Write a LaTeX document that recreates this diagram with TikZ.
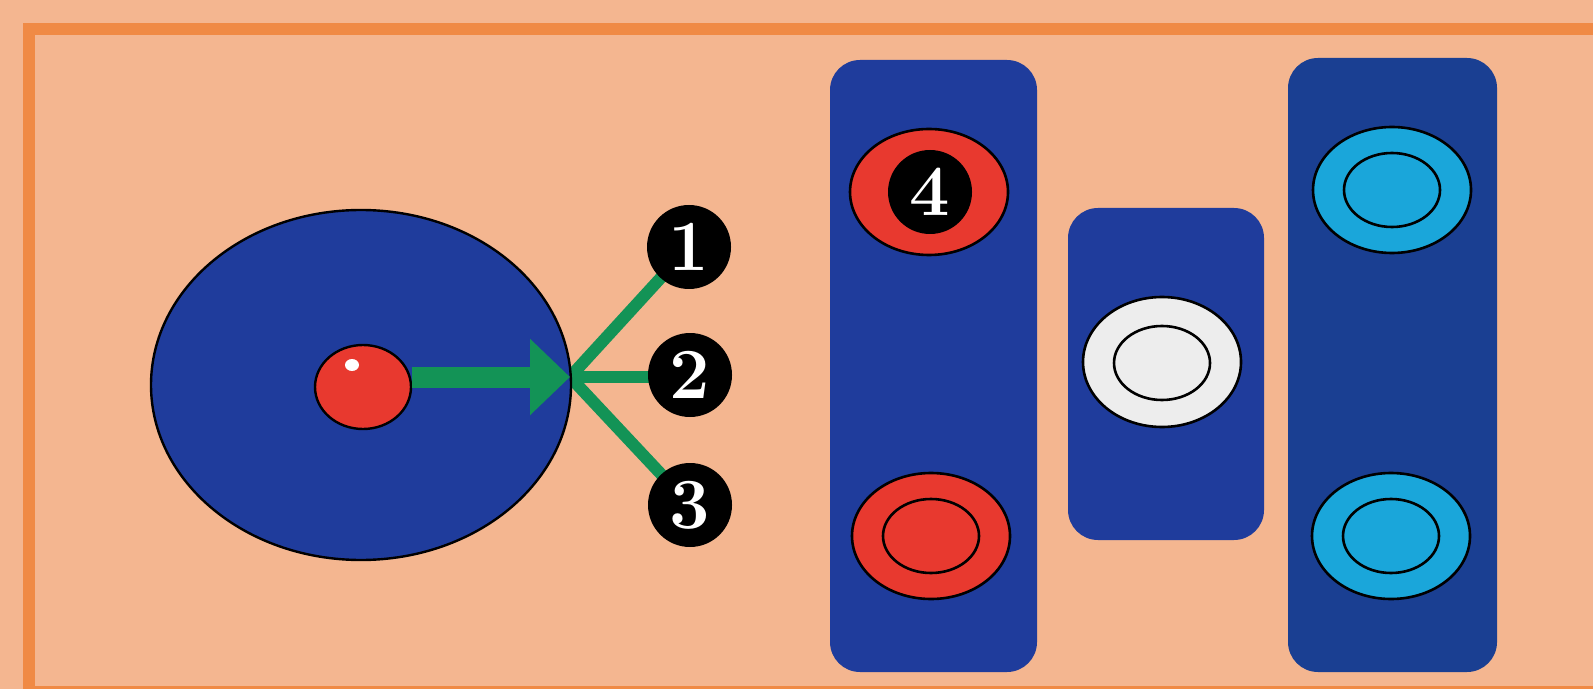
\documentclass[tikz,border=0pt]{standalone}
\usetikzlibrary{shapes.geometric,arrows.meta,backgrounds}
\definecolor{peach}{HTML}{F4B690}
\definecolor{frameorange}{HTML}{F08A45}
\definecolor{dblue}{HTML}{1F3C9C}
\definecolor{dblueB}{HTML}{1A3F92}
\definecolor{pred}{HTML}{E8392F}
\definecolor{pcyan}{HTML}{1AA6DA}
\definecolor{pwhite}{HTML}{EDEDED}
\definecolor{pgreen}{HTML}{139356}
\tikzset{
  panel/.style={rectangle, rounded corners=15pt, fill=dblue, inner sep=0pt},
  ring/.style={ellipse, draw=black, line width=1.3pt, minimum width=79pt, minimum height=63pt, inner sep=0pt},
  innerring/.style={ellipse, draw=black, line width=1.3pt, minimum width=48pt, minimum height=37pt, inner sep=0pt},
  numdot/.style={circle, fill=black, minimum size=42pt, inner sep=0pt, text=white, font=\fontsize{36}{36}\selectfont\bfseries},
  greenline/.style={draw=pgreen, line width=6pt},
}
\begin{document}
\begin{tikzpicture}[x=0.5pt,y=-0.5pt]
\begin{pgfonlayer}{background}
\fill[peach] (0,0) rectangle (1593,689);
\end{pgfonlayer}
\useasboundingbox (0,0) rectangle (1593,689);
% frame
\draw[frameorange, line width=6pt, line join=miter] (1593,29) -- (29,29) -- (29,689);
\draw[frameorange, line width=1.5pt] (29,687.5) -- (1593,687.5);

% big disk and ball
\node[ellipse, draw=black, line width=1.2pt, fill=dblue, minimum width=210pt, minimum height=175pt, inner sep=0pt] (disk) at (361,385) {};
\node[ellipse, draw=black, line width=1.2pt, fill=pred, minimum width=48pt, minimum height=42pt, inner sep=0pt] (ball) at (363,387) {};
\node[ellipse, fill=white, minimum width=7pt, minimum height=6pt, inner sep=0pt] (shine) at (352,365) {};

% junction and arrow
\coordinate (junc) at (570,377);
\draw[pgreen, line width=10.5pt, -{Triangle[width=37pt,length=20pt]}] (ball.east |- junc) -- (junc);

% numbered dots
\node[numdot] (n1) at (689,247) {1};
\node[numdot] (n2) at (690,375) {2};
\node[numdot] (n3) at (690,505) {3};
\begin{pgfonlayer}{background}
\draw[greenline] (junc) -- (n1.center);
\draw[greenline] (junc) -- (n2.center |- junc);
\draw[greenline] (junc) -- (n3.center);
\end{pgfonlayer}

% panel A (red)
\node[panel, minimum width=103.5pt, minimum height=306pt] (colA) at (933.5,366) {};
\node[ring, fill=pred] (redtop) at (929,192) {};
\node[numdot] (n4) at (930,192) {4};
\node[ring, fill=pred] (redbot) at (931,536) {};
\node[innerring] (redbotin) at (931,536) {};

% panel B (white)
\node[panel, minimum width=98pt, minimum height=166pt] (colB) at (1166,374) {};
\node[ring, fill=pwhite, minimum height=65pt] (whiteout) at (1162,362) {};
\node[innerring] (whitein) at (1162,363) {};

% panel C (cyan)
\node[panel, fill=dblueB, minimum width=104.5pt, minimum height=307pt] (colC) at (1392.5,365) {};
\node[ring, fill=pcyan] (cyantop) at (1392,190) {};
\node[innerring] (cyantopin) at (1392,190) {};
\node[ring, fill=pcyan] (cyanbot) at (1391,536) {};
\node[innerring] (cyanbotin) at (1391,536) {};
\end{tikzpicture}
\end{document}
